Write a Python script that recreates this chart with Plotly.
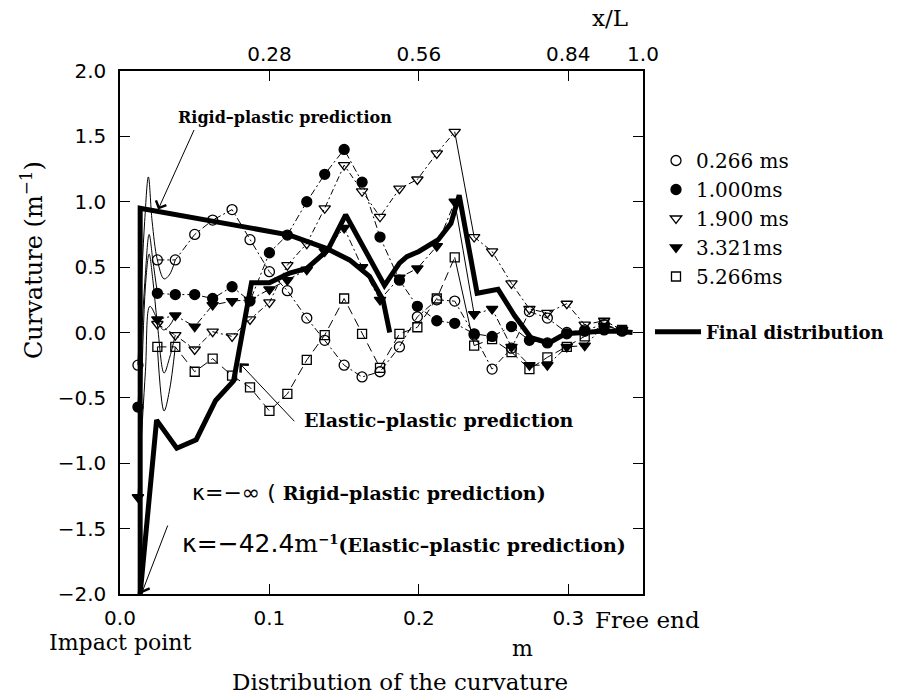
import plotly.graph_objects as go

# ---------------- data ----------------
X = [0.012, 0.025, 0.037, 0.050, 0.062, 0.075, 0.087, 0.100, 0.112, 0.125,
     0.137, 0.150, 0.162, 0.174, 0.187, 0.199, 0.212, 0.224, 0.237, 0.249,
     0.262, 0.274, 0.286, 0.299, 0.311, 0.324, 0.336]

s_0266 = [-0.25, 0.555, 0.555, 0.75, 0.86, 0.94, 0.71, 0.465, 0.32, 0.11,
          -0.06, -0.25, -0.34, -0.30, -0.11, 0.12, 0.25, 0.24, -0.02, -0.28,
          -0.12, 0.16, 0.11, 0.0, 0.02, 0.06, 0.01]
s_1000 = [-0.57, 0.30, 0.29, 0.29, 0.26, 0.35, 0.24, 0.61, 0.745, 1.0,
          1.21, 1.40, 1.15, 0.73, 0.40, 0.20, 0.09, 0.07, -0.01, -0.03,
          0.045, -0.06, -0.08, -0.01, 0.01, 0.02, 0.015]
s_1900 = [None, 0.065, -0.02, -0.13, 0.006, -0.03, 0.10, 0.23, 0.515, 0.68,
          0.95, 1.28, 1.08, 0.885, 1.10, 1.17, 1.37, 1.535, 0.73, 0.62,
          0.375, 0.18, 0.15, 0.22, 0.06, 0.09, 0.02]
s_3321 = [-1.26, 0.10, 0.13, 0.045, 0.21, 0.24, 0.25, 0.33, 0.40, 0.48,
          0.62, 0.80, 0.50, 0.25, 0.42, 0.49, 0.66, 1.00, 0.14, 0.18,
          -0.11, -0.25, -0.25, -0.11, -0.10, 0.05, 0.02]
s_5266 = [None, -0.11, -0.11, -0.30, -0.20, -0.33, -0.42, -0.60, -0.47, -0.21,
          -0.02, 0.26, -0.01, -0.27, -0.01, 0.04, 0.26, 0.575, -0.10, -0.05,
          -0.15, -0.28, -0.19, -0.11, -0.03, 0.06, 0.02]

series_names = ["0.266 ms", "1.000ms", "1.900 ms", "3.321ms", "5.266ms"]

# thin solid curves near the impact point
c0266_x = [0.012, 0.0165, 0.019, 0.0215, 0.025, 0.0295, 0.033, 0.037]
c0266_y = [-0.25, 0.85, 1.19, 0.85, 0.555, 0.41, 0.44, 0.555]
c1000_x = [0.012, 0.017, 0.0195, 0.022, 0.025]
c1000_y = [-0.57, 0.45, 0.75, 0.55, 0.30]
c1900_x = [0.0135, 0.017, 0.0195, 0.022, 0.025, 0.0295, 0.033, 0.037]
c1900_y = [-0.9, 0.35, 0.60, 0.40, 0.065, -0.31, -0.20, -0.02]
c3321_x = [0.012, 0.017, 0.020, 0.025, 0.029, 0.033, 0.037]
c3321_y = [-1.26, -0.30, 0.20, 0.10, 0.02, 0.05, 0.13]
c5266_x = [0.025, 0.0295, 0.033, 0.037]
c5266_y = [-0.11, -0.60, -0.45, -0.11]

# final distribution (thick)
final_x = [0.0135, 0.0245, 0.038, 0.051, 0.064, 0.076, 0.088, 0.100, 0.1135, 0.125,
           0.139, 0.151, 0.177, 0.187, 0.192, 0.200, 0.213, 0.2215, 0.227, 0.239,
           0.253, 0.264, 0.275, 0.287, 0.298, 0.310, 0.322, 0.334, 0.343]
final_y = [-2.0, -0.67, -0.885, -0.82, -0.52, -0.37, 0.38, 0.38, 0.455, 0.49,
           0.63, 0.90, 0.36, 0.53, 0.58, 0.62, 0.71, 0.835, 1.05, 0.30,
           0.33, 0.13, -0.04, -0.08, -0.01, 0.0, 0.01, 0.01, 0.0]

# rigid-plastic prediction (thick)
rp_x = [0.0135, 0.0135, 0.0870, 0.1135, 0.138, 0.1536, 0.167, 0.176, 0.1805]
rp_y = [-2.0, 0.95, 0.80, 0.745, 0.644, 0.555, 0.43, 0.25, 0.0]

bottom_ticks = [0.0, 0.1, 0.2, 0.3]
bottom_labels = ["0.0", "0.1", "0.2", "0.3"]
top_ticks = [0.1, 0.2, 0.3, 0.35]
top_labels = ["0.28", "0.56", "0.84", "1.0"]

# ---------------- figure ----------------
W, H = 906, 694
L, R, T, B = 120, 263, 71, 100
PW, PH = W - L - R, H - T - B


def px(xp):
    return (xp - L) / PW


def py(yp):
    return (H - B - yp) / PH


fig = go.Figure()

all_series = [s_0266, s_1000, s_1900, s_3321, s_5266]
curves = [(c0266_x, c0266_y), (c1000_x, c1000_y), (c1900_x, c1900_y),
          (c3321_x, c3321_y), (c5266_x, c5266_y)]
symbols = ["circle-open", "circle", "triangle-down-open", "triangle-down", "square-open"]
sizes = [10, 10, 10, 10, 9]
dashes = ["7px,3px,2px,3px", "7px,3px,2px,3px", "6px,3px,2px,3px",
          "7px,3px,2px,3px", "9px,5px"]
solid_break = [False, False, True, True, True]

# thin curves
for cx, cy in curves:
    fig.add_trace(go.Scatter(x=cx, y=cy, mode="lines",
                             line=dict(color="black", width=1, shape="spline", smoothing=1.0),
                             showlegend=False, hoverinfo="skip"))

# dashed connecting lines
for vals, dsh, sb in zip(all_series, dashes, solid_break):
    xs, ys = [], []
    for i in range(1, len(vals)):
        if sb and i == 18:
            xs.append(None)
            ys.append(None)
        xs.append(X[i])
        ys.append(vals[i])
    fig.add_trace(go.Scatter(x=xs, y=ys, mode="lines",
                             line=dict(color="black", width=1, dash=dsh),
                             showlegend=False, hoverinfo="skip"))
    if sb:
        fig.add_trace(go.Scatter(x=X[17:19], y=vals[17:19], mode="lines",
                                 line=dict(color="black", width=1),
                                 showlegend=False, hoverinfo="skip"))

# markers (also the legend entries)
for vals, name, sym, sz in zip(all_series, series_names, symbols, sizes):
    fig.add_trace(go.Scatter(x=X, y=vals, mode="markers", name=name,
                             marker=dict(symbol=sym, size=sz, color="black",
                                         line=dict(color="black", width=1.3)),
                             legend="legend"))

# thick lines
fig.add_trace(go.Scatter(x=rp_x, y=rp_y, mode="lines",
                         line=dict(color="black", width=5),
                         showlegend=False, hoverinfo="skip"))
fig.add_trace(go.Scatter(x=final_x, y=final_y, mode="lines", name="Final distribution",
                         line=dict(color="black", width=5), legend="legend2"))

# dummy on top axis
fig.add_trace(go.Scatter(x=[0.35], y=[None], xaxis="x2", mode="markers",
                         showlegend=False, hoverinfo="skip"))

tickfont = dict(family="DejaVu Sans", size=20, color="black")
serif = "DejaVu Serif"

fig.update_layout(
    width=W, height=H, autosize=False,
    margin=dict(l=L, r=R, t=T, b=B),
    paper_bgcolor="white", plot_bgcolor="white",
    xaxis=dict(range=[0, 0.35], tickvals=bottom_ticks, ticktext=bottom_labels,
               ticks="inside", ticklen=10, tickwidth=1.2, tickcolor="black",
               showline=True, linecolor="black", linewidth=1.5, mirror=True,
               showgrid=False, zeroline=False, tickfont=tickfont,
               ticklabelstandoff=5),
    xaxis2=dict(range=[0, 0.35], overlaying="x", side="top",
                tickvals=top_ticks, ticktext=top_labels,
                ticks="inside", ticklen=10, tickwidth=1.2, tickcolor="black",
                showline=False, showgrid=False, zeroline=False, tickfont=tickfont,
                ticklabelstandoff=5),
    yaxis=dict(range=[-2, 2], dtick=0.5, tick0=0, tickformat=".1f",
               ticks="inside", ticklen=10, tickwidth=1.2, tickcolor="black",
               showline=True, linecolor="black", linewidth=1.5, mirror="ticks",
               showgrid=False, zeroline=False, tickfont=tickfont,
               ticklabelstandoff=8),
    legend=dict(x=px(656), y=py(141), xanchor="left", yanchor="top",
                font=dict(family=serif, size=20, color="black"),
                bgcolor="rgba(0,0,0,0)", borderwidth=0, tracegroupgap=0),
    legend2=dict(x=px(650), y=py(332), xanchor="left", yanchor="middle",
                 font=dict(family=serif, size=18, color="black", weight="bold"),
                 bgcolor="rgba(0,0,0,0)", borderwidth=0, itemwidth=46),
    showlegend=True,
)

ann = []
# arrows
arrow = dict(showarrow=True, arrowhead=4, arrowsize=2.2, arrowwidth=1, arrowcolor="black",
             xref="x", yref="y", axref="x", ayref="y", text="")
ann.append(dict(arrow, x=0.0255, y=0.94, ax=0.050, ay=1.56))
ann.append(dict(arrow, x=0.080, y=-0.235, ax=0.1176, ay=-0.69))
ann.append(dict(arrow, x=0.0145, y=-1.995, ax=0.0323, ay=-1.465))


# texts
def txt(text, x, y, size, xanchor="center", bold=False, family=serif, **kw):
    d = dict(text=text, x=x, y=y, xref="paper", yref="paper", showarrow=False,
             xanchor=xanchor, yanchor="middle",
             font=dict(family=family, size=size, color="black",
                       weight="bold" if bold else "normal"))
    d.update(kw)
    return d


ann.append(txt("Rigid–plastic prediction", px(285), py(118), 16, bold=True))
ann.append(txt("Elastic–plastic prediction", px(302), py(420), 19, xanchor="left", bold=True))
ann.append(txt("<span style='font-family:DejaVu Sans;font-size:22px;font-weight:normal'>κ=−∞ ( </span>"
               "Rigid–plastic prediction)", px(190), py(493), 19, xanchor="left", bold=True))
ann.append(txt("<span style='font-family:DejaVu Sans;font-size:25px;font-weight:normal'>κ=−42.4</span>"
               "<span style='font-size:25px;font-weight:normal'>m</span><sup>−1</sup>"
               "(Elastic–plastic prediction)", px(180), py(543), 19, xanchor="left", bold=True))
ann.append(txt("x/L", px(610), py(18), 23))
ann.append(txt("Impact point", px(47), py(642), 22, xanchor="left"))
ann.append(txt("Free end", px(593), py(620), 23, xanchor="left"))
ann.append(txt("m", px(522), py(648), 22))
ann.append(txt("Distribution of the curvature", px(400), py(682), 23))
ann.append(txt("Curvature (m<sup>−1</sup>)", px(32), py(260), 24, textangle=-90))

fig.update_layout(annotations=ann)

fig.write_html("out.html")
